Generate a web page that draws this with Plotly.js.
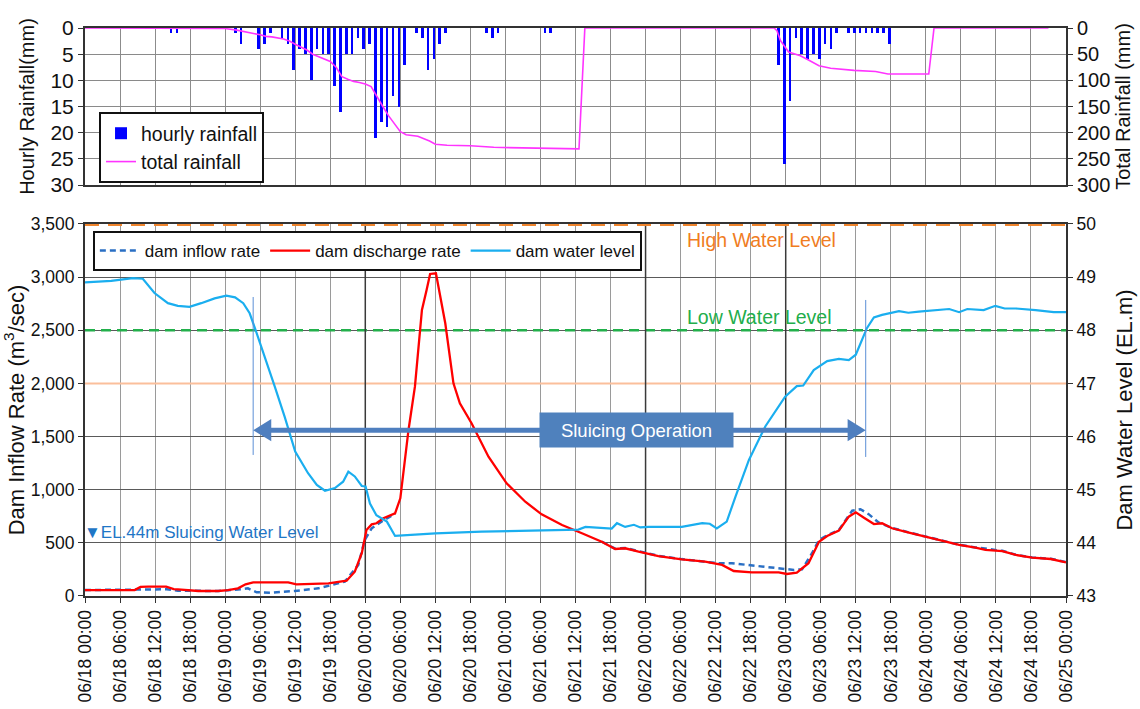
<!DOCTYPE html>
<html><head><meta charset="utf-8">
<script src="https://cdn.plot.ly/plotly-3.0.1.min.js"></script>
<style>html,body{margin:0;padding:0;background:#fff}#chart{width:1140px;height:709px}</style>
</head><body><div id="chart"></div>
<script>
// ---- time axis (hours since 06/18 00:00) ----
const tickHours = [0,6,12,18,24,30,36,42,48,54,60,66,72,78,84,90,96,102,108,114,120,126,132,138,144,150,156,162,168];
const tickLabels = ["06/18 00:00","06/18 06:00","06/18 12:00","06/18 18:00",
  "06/19 00:00","06/19 06:00","06/19 12:00","06/19 18:00",
  "06/20 00:00","06/20 06:00","06/20 12:00","06/20 18:00",
  "06/21 00:00","06/21 06:00","06/21 12:00","06/21 18:00",
  "06/22 00:00","06/22 06:00","06/22 12:00","06/22 18:00",
  "06/23 00:00","06/23 06:00","06/23 12:00","06/23 18:00",
  "06/24 00:00","06/24 06:00","06/24 12:00","06/24 18:00","06/25 00:00"];

// ---- hourly rainfall (mm) ----
const rainHour = [15,16,26,27,30,31,32,34,35,36,37,38,39,40,41,42,43,44,45,46,47,48,49,50,51,52,53,54,55,57,58,59,60,61,62,69,70,71,79,80,
  119,120,121,122,123,124,125,126,127,128,129,131,132,133,134,135,136,137,138];
const rainMM = [1,1,1,3,4,3,1,2,3,8,4,5,10,4,5,5,11,16,5,5,2,4,3,21,18,19,13,15,7,1,2,8,6,3,1,1,2,1,1,1,
  7,26,14,2,5,6,5,6,3,4,1,1,1,1,1,1,1,1,3];

// ---- total rainfall (mm) ----
const totalHour = [0,24,26,28,30,31,32,34,35,36,37,38,39,40,41,42,43,44,45,46,47,48,49,50,51,52,53,54,55,57,59,60,62,66,70,78,84.6,85.6,
  118,118.5,119.1,120.5,122.5,123.9,125.7,127.7,131.7,135.4,137.5,144.5,145.4,165];
const totalMM = [0,1,4,8,13,16,17,21,25,31,36,42,50,55,60,64,75,93,98,102,104,107,112,132,150,168,183,198,204,207,216,222,224,225,228,230,231,0,
  0,5,24,46,53,61,72,77,81,83,88,88,0,0];

// ---- dam water level (EL.m) ----
const levelHour = [0,4.5,8.2,9.9,11.9,14.2,15.9,17.9,19.9,22.2,24.2,25.7,27.1,28.2,29.1,30.8,32.5,34.2,36.0,38.2,39.7,41.1,42.8,44.2,45.1,46.2,47.4,48.05,48.8,49.9,51.7,53.1,56.5,60,67.9,78.2,84.5,85.7,88,90.2,91.1,92.5,94,95.1,96.5,98.2,102.2,105.7,107,108.2,109.9,111.4,113.7,116.5,119.9,121.9,123,124.8,127.1,129.1,130.8,132,133.9,135.1,136.5,139.4,141,142.8,148,149.7,151.1,153.9,155.9,157.5,159.4,162.8,165.9,168];
const levelEL = [48.90,48.93,48.98,48.97,48.70,48.51,48.46,48.44,48.51,48.60,48.65,48.62,48.51,48.32,48.04,47.50,46.94,46.37,45.72,45.31,45.09,44.98,45.03,45.15,45.34,45.25,45.07,45.06,44.74,44.52,44.40,44.13,44.15,44.18,44.21,44.23,44.25,44.30,44.29,44.27,44.37,44.30,44.34,44.29,44.30,44.30,44.30,44.37,44.36,44.27,44.40,44.87,45.56,46.19,46.75,46.95,46.96,47.25,47.42,47.46,47.44,47.54,48.04,48.24,48.29,48.36,48.33,48.35,48.40,48.34,48.40,48.38,48.46,48.41,48.41,48.38,48.34,48.34];

// ---- dam discharge rate (m3/s) ----
const dischargeHour = [0,8.5,9.5,10.8,13.9,15.2,15.9,19.4,22.8,24.5,26.2,27.5,28.8,34.8,36.2,41.7,44.8,46.2,47.4,48.2,49.1,49.9,51.1,53.1,54,55.4,56.5,57.7,58.5,59.1,60.1,61.7,63.1,64.2,66.2,69.1,72.2,75.4,78.2,81.7,85.1,88.5,90.8,92.5,94.8,98.2,102.2,106.2,109.1,111.1,114.2,118.8,120.2,121.9,123.9,125.7,127.1,129.1,130.8,132,133.4,135.1,136.5,138.2,141.1,144,146.8,149.7,152.5,154.2,157.1,159.4,162.2,165.4,168];
const dischargeQ = [56,56,85,88,88,65,63,47,47,55,72,110,129,129,110,119,144,229,402,620,674,684,731,778,919,1562,1969,2691,2879,3030,3036,2566,2001,1813,1625,1311,1060,887,768,668,590,511,442,449,417,376,345,323,292,235,223,223,207,219,308,511,564,615,746,787,737,677,684,637,596,558,517,480,455,433,423,386,361,348,317];

// ---- dam inflow rate (m3/s) ----
const inflowHour = [0,8.5,10.5,14,15.9,22.8,26.2,27.9,29.4,31.9,35.9,40,44.5,46.8,47.9,49.1,50.5,51.5,53.1,53.3,
  88.5,90.8,92.5,94.8,98.2,102.2,106.2,108.5,110.8,114.8,118.8,121.4,122.8,124.5,125.7,127.1,129.1,131.4,132.8,134.2,135.9,138.2,141.1,144,146.8,149.7,152.5,154.6,157.1,159.4,162.2,165.4,168];
const inflowQ = [56,56,63,63,50,47,60,72,35,31,47,72,135,292,527,637,690,720,775,null,
  511,445,452,420,378,347,325,308,308,282,260,245,251,402,527,570,620,803,816,770,692,640,598,560,519,482,457,440,425,388,363,350,320];

// ---- reference levels / annotation anchors ----
const highWaterQ = 3500;   // EL.50 m
const lowWaterQ = 2500;    // EL.48 m
const el47Q = 2000;        // EL.47 m
const darkGridHours = [48,96,120];
const sluiceStart = 28.8, sluiceEnd = 133.7, sluiceArrowQ = 1560, sluiceLabelHour = 94.4;
const headLen = 3.1, headHalf = 105;   // arrowhead size in axis units

const FONT = "Liberation Sans, Arial, sans-serif";
const ARROW = '#4f7fbf';

const traces = [
  {type:'bar', x:rainHour, y:rainMM, name:'hourly rainfall', xaxis:'x2', yaxis:'y3',
   marker:{color:'#0000ff'}, width:0.45, offset:-0.48, legend:'legend2'},
  {type:'scatter', mode:'lines', x:totalHour, y:totalMM, name:'total rainfall', xaxis:'x2', yaxis:'y4',
   line:{color:'#ff33ff', width:1.6}, legend:'legend2'},
  {type:'scatter', mode:'lines', x:inflowHour, y:inflowQ, name:'dam inflow rate', xaxis:'x', yaxis:'y',
   line:{color:'#2a6fc4', width:2.5, dash:'6px,4px'}, connectgaps:false},
  {type:'scatter', mode:'lines', x:dischargeHour, y:dischargeQ, name:'dam discharge rate', xaxis:'x', yaxis:'y',
   line:{color:'#ff0000', width:2.3}},
  {type:'scatter', mode:'lines', x:levelHour, y:levelEL, name:'dam water level', xaxis:'x', yaxis:'y2',
   line:{color:'#1aaeef', width:2.2}}
];

const axLine = {showline:true, linecolor:'#333', linewidth:2, mirror:true, zeroline:false,
  ticks:'outside', ticklen:5, tickcolor:'#333'};

const shapes = [
  {type:'line', xref:'x', yref:'y', x0:0, x1:168, y0:el47Q, y1:el47Q, layer:'between', line:{color:'#fbbf9b', width:2}},
  {type:'line', xref:'x', yref:'y', x0:0, x1:168, y0:lowWaterQ, y1:lowWaterQ, layer:'between', line:{color:'#22b04b', width:2.5, dash:'10px,6px'}},
  {type:'line', xref:'x', yref:'y', x0:0, x1:168, y0:highWaterQ, y1:highWaterQ, layer:'above', line:{color:'#f0852d', width:4, dash:'14px,9px'}},
  {type:'line', xref:'x', yref:'y', x0:sluiceStart, x1:sluiceStart, y0:1327, y1:2813, line:{color:'#5b8fd6', width:1}},
  {type:'line', xref:'x', yref:'y', x0:sluiceEnd, x1:sluiceEnd, y0:1308, y1:2785, line:{color:'#5b8fd6', width:1}},
  // double-headed "Sluicing Operation" arrow
  {type:'line', xref:'x', yref:'y', x0:sluiceStart + headLen - 0.3, x1:sluiceEnd - headLen + 0.3, y0:sluiceArrowQ, y1:sluiceArrowQ,
   line:{color:ARROW, width:5}},
  {type:'path', xref:'x', yref:'y', fillcolor:ARROW, line:{width:0},
   path:`M ${sluiceStart} ${sluiceArrowQ} L ${sluiceStart + headLen} ${sluiceArrowQ + headHalf} L ${sluiceStart + headLen} ${sluiceArrowQ - headHalf} Z`},
  {type:'path', xref:'x', yref:'y', fillcolor:ARROW, line:{width:0},
   path:`M ${sluiceEnd} ${sluiceArrowQ} L ${sluiceEnd - headLen} ${sluiceArrowQ + headHalf} L ${sluiceEnd - headLen} ${sluiceArrowQ - headHalf} Z`}
];
darkGridHours.forEach(h => shapes.push({type:'line', xref:'x', yref:'y', x0:h, x1:h, y0:0, y1:3500, layer:'between', line:{color:'#3a3a3a', width:1.5}}));

const annotations = [
  {xref:'x', yref:'y', x:102.7, y:3349, xanchor:'left', text:'High Water Level', showarrow:false, font:{color:'#f07d1f', size:19.5}},
  {xref:'x', yref:'y', x:102.7, y:2625, xanchor:'left', text:'Low Water Level', showarrow:false, font:{color:'#22ad4b', size:19.5}},
  {xref:'paper', yref:'y', x:-0.003, y:593, xanchor:'left', text:'▼EL.44m Sluicing Water Level', showarrow:false, font:{color:'#1f76c6', size:17}},
  {xref:'x', yref:'y', x:sluiceLabelHour, y:sluiceArrowQ, text:'Sluicing Operation', showarrow:false,
   bgcolor:'#4f81bd', font:{color:'#ffffff', size:18.5}, width:181, height:22, borderpad:6}
];

const layout = {
  width:1140, height:709,
  margin:{l:85, r:74, t:0, b:113},
  paper_bgcolor:'#ffffff', plot_bgcolor:'#ffffff',
  font:{family:FONT, size:17.5, color:'#111'},
  bargap:0,
  xaxis:Object.assign({}, axLine, {domain:[0,1], anchor:'y', range:[0,168], tickvals:tickHours, ticktext:tickLabels,
    tickangle:-90, tickfont:{size:17.5}, showgrid:true, gridcolor:'#9a9a9a', gridwidth:1}),
  yaxis:Object.assign({}, axLine, {domain:[0,0.6242], range:[0,3500], dtick:500, tickformat:',', tickfont:{size:17.5},
    showgrid:true, gridcolor:'#5a5a5a', gridwidth:1, mirror:false,
    title:{text:'Dam Inflow Rate (m<sup>3</sup>/sec)', font:{size:22}}}),
  yaxis2:Object.assign({}, axLine, {overlaying:'y', side:'right', range:[43,50], dtick:1, showgrid:false, mirror:false,
    tickfont:{size:17.5}, title:{text:'Dam Water Level (EL.m)', font:{size:22}}}),
  xaxis2:Object.assign({}, axLine, {domain:[0,1], anchor:'y3', range:[0,168], tickvals:tickHours, showticklabels:false,
    ticks:'', showgrid:true, gridcolor:'#8c8c8c', gridwidth:1}),
  yaxis3:Object.assign({}, axLine, {domain:[0.6896,0.953], anchor:'x2', range:[30,0], dtick:5, tickfont:{size:21},
    showgrid:true, gridcolor:'#8a8a8a', mirror:false, title:{text:'Hourly Rainfall(mm)', font:{size:20}}}),
  yaxis4:Object.assign({}, axLine, {overlaying:'y3', anchor:'x2', side:'right', range:[300,0], dtick:50, showgrid:false,
    mirror:false, tickfont:{size:20}, title:{text:'Total Rainfall (mm)', font:{size:20}}}),
  legend:{x:0.008, y:0.6124, xanchor:'left', yanchor:'top', orientation:'h', bgcolor:'#ffffff',
    bordercolor:'#111', borderwidth:2, font:{size:17}, itemwidth:40},
  legend2:{x:0.0143, y:0.812, xanchor:'left', yanchor:'top', orientation:'v', bgcolor:'#ffffff',
    bordercolor:'#111', borderwidth:2, font:{size:19.5}, itemwidth:30},
  shapes:shapes,
  annotations:annotations
};

Plotly.newPlot('chart', traces, layout, {displayModeBar:false, staticPlot:true});
</script>
</body></html>
